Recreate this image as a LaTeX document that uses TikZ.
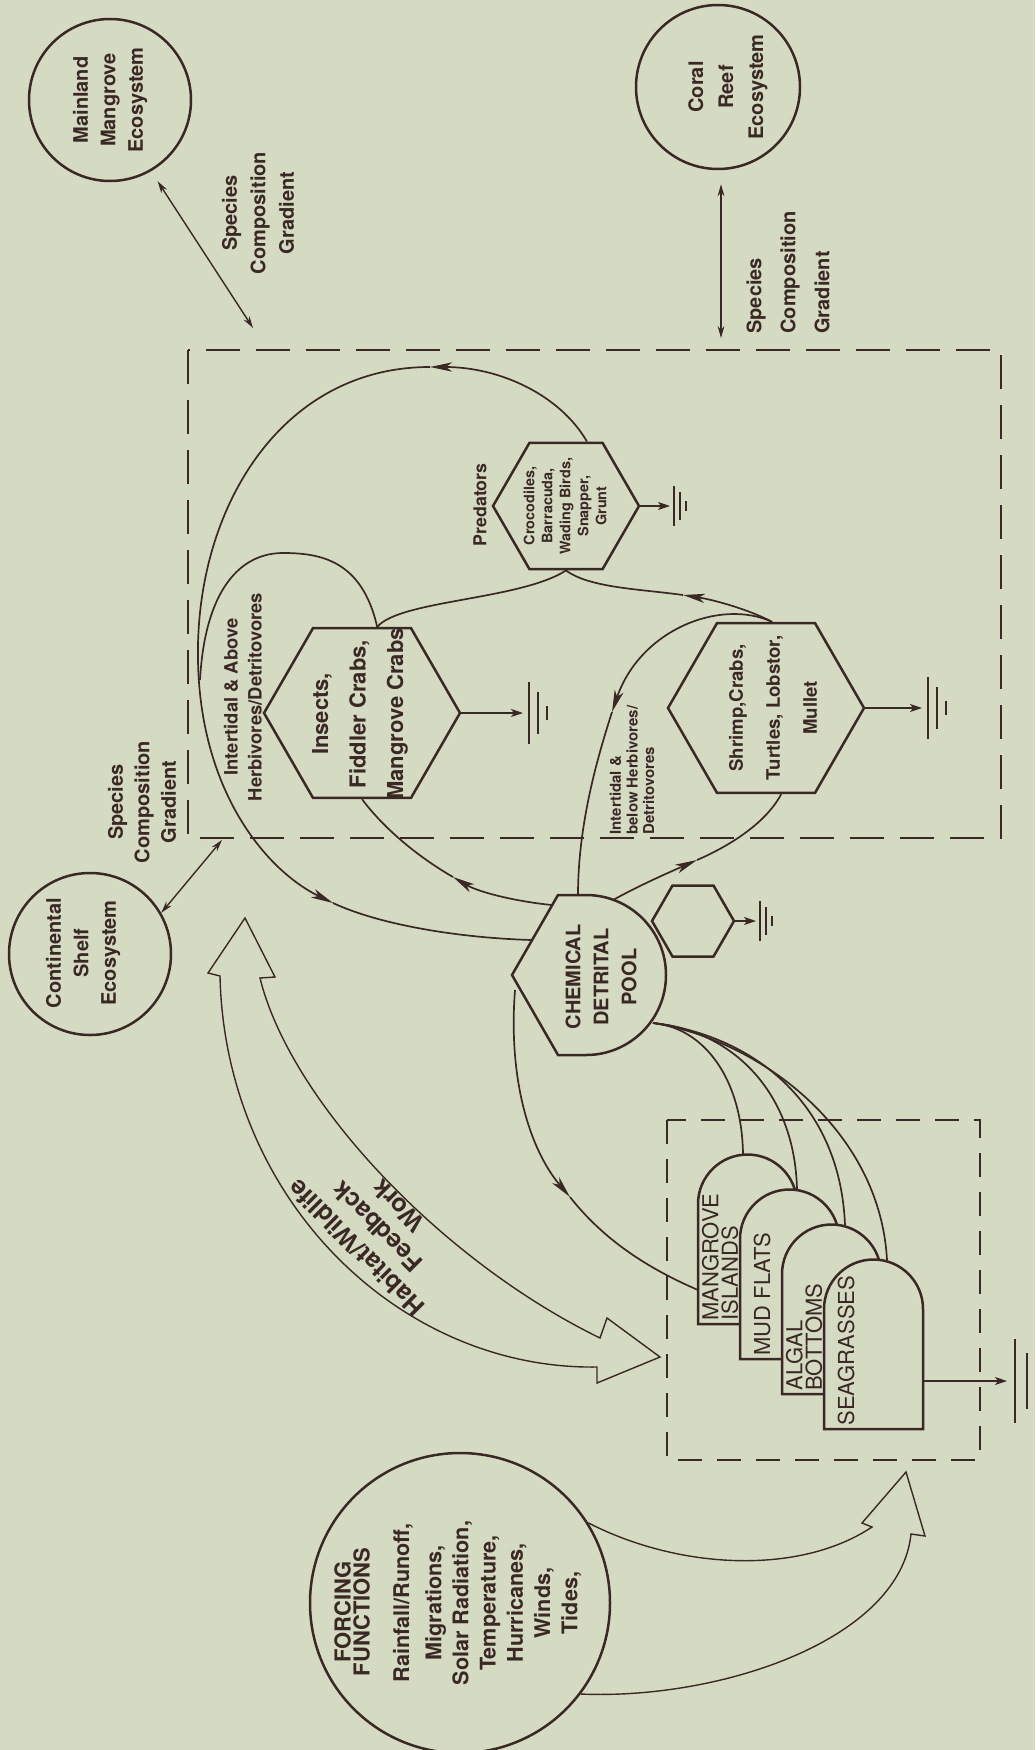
\documentclass[tikz,border=0pt]{standalone}
\usepackage{fontspec}
\setmainfont{TeX Gyre Heros}
\usetikzlibrary{arrows.meta,positioning,shapes.geometric}
\definecolor{ecoInk}{HTML}{3A2824}
\definecolor{ecoPaper}{HTML}{D5DBC2}
\tikzset{
  flow/.style={ecoInk,line width=0.85pt},
  flowtip/.style={flow,-{Stealth[length=11pt,width=4.6pt,inset=3pt]}},
  sinktip/.style={flow,-{Stealth[length=6pt,width=4pt,inset=1.5pt]}},
  twoway/.style={ecoInk,line width=0.7pt,{Stealth[length=6pt,width=3.4pt]}-{Stealth[length=6pt,width=3.4pt]}},
  outline/.style={draw=ecoInk,line width=1.25pt},
  hexa/.style={outline,fill=ecoPaper,regular polygon,regular polygon sides=6,inner sep=0pt},
  eco/.style={outline,circle,inner sep=0pt},
  sysbox/.style={ecoInk,line width=1.2pt,dash pattern=on 17pt off 8pt},
  hollow/.style={ecoInk,line width=0.7pt,line join=miter},
  lbl/.style={rotate=90,align=center,inner sep=0pt,text=ecoInk,font=\bfseries\fontsize{10}{14}\selectfont},
  prodlbl/.style={rotate=90,anchor=west,align=left,inner sep=0pt,text=ecoInk,font=\fontsize{11}{9.75}\selectfont},
  sink/.pic={\draw[ecoInk,line width=1.1pt] (6,-31) -- (6,31) (15,-21) -- (15,21) (24,-7) -- (24,7);},
}

\begin{document}
\begin{tikzpicture}[x=0.5pt,y=-0.5pt]
\fill[ecoPaper] (0,0) rectangle (1035,1750);
\useasboundingbox (0,0) rectangle (1035,1750);

% neighbouring ecosystems
\node[eco,minimum size=81pt] (mainland) at (110,100) {};
\node[lbl,font=\bfseries\fontsize{10}{13.75}\selectfont] (mainlandtxt) at (110,100) {Mainland\\Mangrove\\Ecosystem};
\node[eco,minimum size=82pt] (coral) at (718,87) {};
\node[lbl,font=\bfseries\fontsize{10}{15}\selectfont] (coraltxt) at (728,87) {Coral\\Reef\\Ecosystem};
\node[eco,minimum size=81pt] (shelf) at (90,954) {};
\node[lbl,font=\bfseries\fontsize{10}{13.75}\selectfont] (shelftxt) at (83,953) {Continental\\Shelf\\Ecosystem};

\coordinate (gradMain) at (253,328);
\coordinate (gradCoral) at (721,338);
\coordinate (gradShelf) at (222,840);
\draw[twoway,shorten <=6pt] (mainland.-60) -- (gradMain);
\draw[twoway,shorten <=7pt] (gradCoral |- coral.south) -- (gradCoral);
\draw[twoway] (shelf.30) -- (gradShelf);
\node[lbl,font=\bfseries\fontsize{10}{14.25}\selectfont] (gradMainTxt) at (258,213) {Species\\Composition\\Gradient};
\node[lbl,anchor=west,align=left,font=\bfseries\fontsize{10}{17}\selectfont] (gradCoralTxt) at (788,334) {Species\\Composition\\Gradient};
\node[lbl,font=\bfseries\fontsize{10}{13.25}\selectfont] (gradShelfTxt) at (142,802) {Species\\Composition\\Gradient};

% consumer subsystem
\draw[sysbox] (188,350) rectangle (1001,838);
\node[hexa,minimum size=98pt] (insects) at (362,713) {};
\node[hexa,minimum size=73pt] (predators) at (566,506) {};
\node[hexa,minimum size=98pt] (shrimp) at (766,708) {};
\node[lbl,font=\bfseries\fontsize{11}{18.75}\selectfont] (insectstxt) at (360,714) {Insects,\\Fiddler Crabs,\\Mangrove Crabs};
\node[lbl,font=\bfseries\fontsize{7.2}{9}\selectfont] (predatorstxt) at (565,506) {Crocodiles,\\Barracuda,\\Wading Birds,\\Snapper,\\Grunt};
\node[lbl,font=\bfseries\fontsize{8.9}{10}\selectfont] (predlbl) at (480,505) {Predators};
\node[lbl,font=\bfseries\fontsize{9.3}{18.5}\selectfont] (shrimptxt) at (773,708) {Shrimp,Crabs,\\Turtles, Lobstor,\\Mullet};
\node[lbl,font=\bfseries\fontsize{9.2}{12}\selectfont] (abovelbl) at (243,697) {Intertidal \& Above\\Herbivores/Detritovores};
\node[lbl,anchor=west,align=left,font=\bfseries\fontsize{7.5}{8.3}\selectfont] (belowlbl) at (632,835) {Intertidal \&\\below Herbivores/\\Detritovores};

% losses to heat sinks
\coordinate (gIns) at (523,713);
\coordinate (gPred) at (670,506);
\coordinate (gShr) at (922,708);
\draw[sinktip] (insects.east) -- (gIns);
\draw[sinktip] (predators.east) -- (gPred);
\draw[sinktip] (shrimp.east) -- (gShr);
\pic at (gIns) {sink};
\pic[scale=0.65] at (gPred) {sink};
\pic at (gShr) {sink};

% detrital pool with its decomposers
\node[hexa,minimum size=41pt] (microbes) at (693,921) {};
\coordinate (gMic) at (756,921);
\draw[sinktip] (microbes.east) -- (gMic);
\pic[scale=0.65] at (gMic) {sink};
\draw[outline,fill=ecoPaper] (512,975) -- (558,895) -- (586,895) arc[start angle=90,end angle=-90,radius=40pt] -- (558,1055) -- cycle;
\node[lbl,font=\bfseries\fontsize{10}{14}\selectfont] (pooltxt) at (601,977) {CHEMICAL\\DETRITAL\\POOL};
\coordinate (poolTop) at (578,895);
\coordinate (poolNW) at (552,905);
\coordinate (poolNE) at (613,900);
\coordinate (poolIn) at (532,940);
\coordinate (poolSW) at (515,990);
\coordinate (poolSE) at (653,1023);

% flows in the consumer subsystem
\coordinate (insTip) at (453,877);
\coordinate (shrTip) at (697,860);
\coordinate (predTip) at (683,595);
\coordinate (downTip) at (612,712);
\coordinate (topTip) at (430,367);
\coordinate (leftTip) at (333,903);
\coordinate (loopJoin) at (200,680);
\draw[flowtip] (poolNW) .. controls (520,902) and (480,893) .. (insTip);
\draw[flow] (insTip) .. controls (420,858) and (385,830) .. (insects.south);
\draw[flowtip] (poolNE) .. controls (640,885) and (670,872) .. (shrTip);
\draw[flow] (shrTip) .. controls (725,848) and (765,825) .. (shrimp.-80);
\draw[flowtip] (shrimp.86) .. controls (750,610) and (715,600) .. (predTip);
\draw[flow] (predTip) .. controls (640,589) and (590,588) .. (predators.south);
\draw[flowtip] (shrimp.86) .. controls (720,598) and (640,630) .. (downTip);
\draw[flow] (downTip) .. controls (600,750) and (578,820) .. (poolTop);
\draw[flow] (insects.80) .. controls (400,600) and (520,600) .. (predators.south);
\draw[flow] (insects.80) .. controls (362,560) and (320,553) .. (283,553)
  .. controls (240,553) and (205,590) .. (loopJoin);
\draw[flowtip] (predators.72) .. controls (560,395) and (500,367) .. (topTip);
\draw[flowtip] (topTip) .. controls (280,367) and (195,510) .. (198,660)
  .. controls (200,790) and (265,870) .. (leftTip);
\draw[flow] (leftTip) .. controls (380,925) and (460,938) .. (poolIn);

% producer subsystem
\draw[sysbox,dash pattern=on 12pt off 7.5pt] (667,1120) rectangle (980,1460);
\coordinate (mangTop) at (743,1154);
\coordinate (mudTop) at (797,1190);
\coordinate (algTop) at (845,1225);
\coordinate (seaTop) at (887,1260);
\coordinate (mangW) at (698,1290);
\coordinate (prodTip) at (570,1197);
\draw[flow] (poolSE) .. controls (705,1028) and (742,1080) .. (mangTop);
\draw[flow] (poolSE) .. controls (730,1030) and (795,1090) .. (mudTop);
\draw[flow] (poolSE) .. controls (750,1035) and (840,1100) .. (algTop);
\draw[flow] (poolSE) .. controls (760,1040) and (880,1130) .. (seaTop);
\draw[flowtip] (poolSW) .. controls (508,1080) and (530,1150) .. (prodTip);
\draw[flow] (prodTip) .. controls (600,1235) and (640,1265) .. (mangW);
\foreach \i/\txt in {0/{MANGROVE\\ISLANDS},1/{MUD FLATS},2/{ALGAL\\BOTTOMS},3/{SEAGRASSES}}{
  \pgfmathsetmacro{\lx}{698+42*\i}
  \pgfmathsetmacro{\by}{1324+35*\i}
  \draw[outline,fill=ecoPaper] (\lx,\by) -- (\lx,\by-120) arc[start angle=180,end angle=0,radius=24.75pt] -- (\lx+99,\by) -- cycle;
  \node[prodlbl] (prod\i) at (\lx+22,\by-3) {\txt};
}
\coordinate (seaE) at (923,1381);
\coordinate (gSea) at (1007,1381);
\draw[sinktip] (seaE) -- (gSea);
\pic[scale=1.35] at (gSea) {sink};

% feedback work of habitat and wildlife
\draw[hollow] (220,976) -- (208,973) -- (245,918) -- (275,977) -- (260,978)
  .. controls (290,1100) and (440,1260) .. (600,1338) -- (607,1318) -- (660,1357)
  -- (597,1383) -- (597,1367) .. controls (400,1370) and (225,1200) .. (220,976) -- cycle;
\node[lbl,rotate=45,font=\bfseries\fontsize{12.5}{14.7}\selectfont] (habitat) at (377,1227) {Habitat/Wildlife\\Feedback\\Work};

% forcing functions
\node[eco,minimum size=150pt] (forcing) at (460,1603) {};
\node[lbl,font=\bfseries\fontsize{11}{9.5}\selectfont] (forcingtitle) at (352,1612) {FORCING\\FUNCTIONS};
\node[lbl,font=\bfseries\fontsize{10.8}{13.6}\selectfont] (forcinglist) at (487,1603) {Rainfall/Runoff,\\[2.5pt]Migrations,\\Solar Radiation,\\Temperature,\\Hurricanes,\\Winds,\\Tides,};
\draw[hollow] (forcing.32) .. controls (680,1570) and (800,1575) .. (872,1527) -- (862,1523)
  -- (906,1472) -- (925,1536) -- (911,1534) .. controls (900,1640) and (720,1700) .. (forcing.-37);
\end{tikzpicture}
\end{document}
